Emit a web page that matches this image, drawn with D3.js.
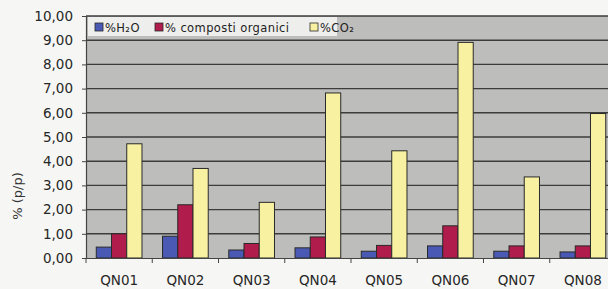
<!DOCTYPE html>
<html><head><meta charset="utf-8">
<script src="https://cdn.jsdelivr.net/npm/d3@7"></script>
<style>
html,body{margin:0;padding:0;background:#f6f6f4;}
svg{display:block;font-family:"DejaVu Sans",sans-serif;}
</style></head>
<body>
<svg id="c" width="608" height="289"></svg>
<script>
const categories = ["QN01","QN02","QN03","QN04","QN05","QN06","QN07","QN08"];
const seriesNames = ["%H₂O","% composti organici","%CO₂"];
const h2o = [0.45,0.90,0.33,0.42,0.28,0.50,0.28,0.25];
const organici = [1.00,2.20,0.60,0.87,0.52,1.33,0.50,0.50];
const co2 = [4.72,3.70,2.30,6.82,4.43,8.91,3.35,5.97];
const yTicks = [0,1,2,3,4,5,6,7,8,9,10];
const colors = ["#4a5ab4","#b01c4c","#f8f1a2"];

const series = [h2o, organici, co2];
const svg = d3.select("#c");
const m = {left:86, right:616, top:16, bottom:258};

const x = d3.scaleBand().domain(categories).range([m.left, m.right]).paddingInner(0.31).paddingOuter(0.155);
const x1 = d3.scaleBand().domain(d3.range(3)).range([0, x.bandwidth()]);
const y = d3.scaleLinear().domain([0,10]).range([m.bottom, m.top]);

// plot background
svg.append("rect").attr("x",m.left).attr("y",m.top).attr("width",m.right-m.left).attr("height",m.bottom-m.top)
  .attr("fill","#bdbdbb");

// gridlines
svg.append("g").selectAll("line").data(yTicks.filter(d=>d>0)).join("line")
  .attr("x1",m.left).attr("x2",m.right).attr("y1",d=>y(d)).attr("y2",d=>y(d))
  .attr("stroke","#3c3c3c").attr("stroke-width",1.4);

// y axis
const yAxis = d3.axisLeft(y).tickValues(yTicks).tickSize(4).tickPadding(9)
  .tickFormat(d=>d3.format(".2f")(d).replace(".",","));
const gy = svg.append("g").attr("transform",`translate(${m.left},0)`).call(yAxis);
gy.select(".domain").attr("stroke","#444").attr("stroke-width",1.2);
gy.selectAll(".tick line").attr("stroke","#444");
gy.selectAll("text").attr("font-size",13.5).attr("fill","#262626").attr("font-family","DejaVu Sans");

// bars
const groups = svg.append("g").selectAll("g").data(categories).join("g")
  .attr("transform",d=>`translate(${x(d)},0)`);
groups.selectAll("rect").data((d,i)=>series.map((s,k)=>({k, v:s[i]}))).join("rect")
  .attr("x",d=>x1(d.k)).attr("width",x1.bandwidth())
  .attr("y",d=>y(d.v)).attr("height",d=>y(0)-y(d.v))
  .attr("fill",d=>colors[d.k]).attr("stroke","#2a2a2a").attr("stroke-width",1);

// x axis
const xAxis = d3.axisBottom(x).tickSize(0).tickPadding(17);
const gx = svg.append("g").attr("transform",`translate(0,${m.bottom})`).call(xAxis);
gx.select(".domain").attr("stroke","#444").attr("stroke-width",1.2);
gx.selectAll("text").attr("font-size",13.5).attr("fill","#262626").attr("font-family","DejaVu Sans");
// category boundary ticks
const step = x.step();
gx.append("g").selectAll("line").data(d3.range(categories.length+1)).join("line")
  .attr("x1",i=>m.left+i*step).attr("x2",i=>m.left+i*step).attr("y1",0).attr("y2",5)
  .attr("stroke","#444");

// legend
const lg = svg.append("g");
lg.append("rect").attr("x",88).attr("y",17).attr("width",249).attr("height",19)
  .attr("fill","#eeeeec");
const legX = [95, 155, 310];
seriesNames.forEach((n,k)=>{
  lg.append("rect").attr("x",legX[k]).attr("y",23).attr("width",8).attr("height",8)
    .attr("fill",colors[k]).attr("stroke","#2a2a2a").attr("stroke-width",0.8);
  lg.append("text").attr("x",legX[k]+10).attr("y",31.5).attr("font-size",11.5)
    .attr("letter-spacing",0.4).attr("fill","#222")
    .text(n);
});

// y label
svg.append("text").attr("transform","translate(22,196) rotate(-90)").attr("text-anchor","middle")
  .attr("font-size",13).attr("fill","#333").text("% (p/p)");
</script>
</body></html>
